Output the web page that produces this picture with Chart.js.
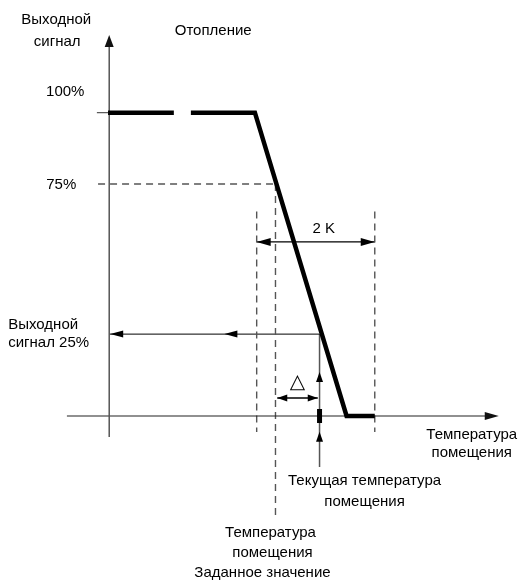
<!DOCTYPE html>
<html><head><meta charset="utf-8">
<style>html,body{margin:0;padding:0;background:#fff}canvas{display:block}</style>
</head><body>
<canvas id="c" width="520" height="582"></canvas>
<script src="https://cdn.jsdelivr.net/npm/chart.js@4/dist/chart.umd.min.js"></script>
<script>
// ---- data (temperature in K relative to setpoint, output in %) ----
const curveTemp   = [-2.85, -1.73, -1.6, -1.44, -0.35, 1.21, 1.69];
const curveOutput = [100, 100, null, 100, 100, 0, 0];
const bandEdges   = [-0.32, 1.69];          // 2 K band
const setpointTemp = 0;
const currentTemp  = 0.75;
const outputLevels = [100, 76.5, 27];        // 100 %, 75 %, 25 %
const xAxisRange = [-3.55, 3.80];
const yAxisRange = [-6.9, 125.6];
const deltaRange = [0.03, 0.72];
const titleText = 'Отопление';
const yTitle = ['Выходной', 'сигнал'];
const xTitle = ['Температура', 'помещения'];
const levelLabels = ['100%', '75%'];
const lowLabel = ['Выходной', 'сигнал 25%'];
const bandLabel = '2 K';
const deltaLabel = '△';
const currentLabel = ['Текущая температура', 'помещения'];
const setpointLabel = ['Температура', 'помещения', 'Заданное значение'];

const pts = (xs, ys) => xs.map((x, i) => ({x, y: ys[i]}));
const seg = (x1, y1, x2, y2) => [{x: x1, y: y1}, {x: x2, y: y2}];
const yAx = yAxisRange, xAx = xAxisRange;
const axisX = -2.83;
const bandTop = 67.4, bandBottom = -5.3, bandArrowY = 57.4;
const curBottom = -16.8, spBottom = -33, deltaY = 5.9;

function line(data, color, width, dash) {
  return {data, showLine: true, borderColor: color, borderWidth: width,
          borderDash: dash || [], pointRadius: 0, fill: false,
          borderCapStyle: 'butt', borderJoinStyle: 'miter', spanGaps: false};
}
const DASH = [7, 5];
const datasets = [
  line(pts(curveTemp, curveOutput), '#000', 4.5),
  line(seg(currentTemp, 2.3, currentTemp, -2.3), '#000', 5),
  line(seg(axisX, yAx[0], axisX, yAx[1] - 3), '#555', 1.5),
  line(seg(xAx[0], 0, xAx[1] - 0.2, 0), '#222', 1.2),
  line(seg(-3.04, outputLevels[0], axisX, outputLevels[0]), '#333', 1),
  line(seg(-3.02, outputLevels[1], setpointTemp, outputLevels[1]), '#555', 1.4, DASH),
  line(seg(setpointTemp, outputLevels[1], setpointTemp, spBottom), '#555', 1.4, DASH),
  line(seg(bandEdges[0], bandTop, bandEdges[0], bandBottom), '#555', 1.4, DASH),
  line(seg(bandEdges[1], bandTop, bandEdges[1], bandBottom), '#555', 1.4, DASH),
  line(seg(bandEdges[0], bandArrowY, bandEdges[1], bandArrowY), '#000', 1.2),
  line(seg(currentTemp, outputLevels[2], axisX, outputLevels[2]), '#000', 1),
  line(seg(currentTemp, outputLevels[2], currentTemp, curBottom), '#555', 1.5),
  line(seg(deltaRange[0], deltaY, deltaRange[1], deltaY), '#000', 1.5)
];

function arrow(ctx, x, y, dx, dy, len, w, color) {
  const nx = -dy, ny = dx;
  ctx.beginPath();
  ctx.moveTo(x, y);
  ctx.lineTo(x - dx * len + nx * w / 2, y - dy * len + ny * w / 2);
  ctx.lineTo(x - dx * len - nx * w / 2, y - dy * len - ny * w / 2);
  ctx.closePath();
  ctx.fillStyle = color;
  ctx.fill();
}

const decor = {
  id: 'decor',
  afterDatasetsDraw(chart) {
    const ctx = chart.ctx, X = chart.scales.x, Y = chart.scales.y;
    const px = v => X.getPixelForValue(v), py = v => Y.getPixelForValue(v);
    ctx.save();
    // arrowheads
    arrow(ctx, px(axisX), py(yAx[1]), 0, -1, 12, 9, '#111');
    arrow(ctx, px(xAx[1]), py(0), 1, 0, 14, 8, '#111');
    arrow(ctx, px(bandEdges[0]), py(bandArrowY), -1, 0, 14, 8, '#000');
    arrow(ctx, px(bandEdges[1]), py(bandArrowY), 1, 0, 14, 8, '#000');
    arrow(ctx, px(axisX) + 1, py(outputLevels[2]), -1, 0, 13, 7, '#000');
    arrow(ctx, px(-0.87), py(outputLevels[2]), -1, 0, 13, 7, '#000');
    arrow(ctx, px(currentTemp), py(14.5), 0, -1, 10, 7, '#000');
    arrow(ctx, px(currentTemp), py(-5.2), 0, -1, 10, 7, '#000');
    arrow(ctx, px(deltaRange[0]), py(deltaY), -1, 0, 10, 7, '#000');
    arrow(ctx, px(deltaRange[1]), py(deltaY), 1, 0, 10, 7, '#000');
    // texts
    ctx.fillStyle = '#000';
    ctx.textBaseline = 'middle';
    const F = '15px "Liberation Sans", Arial, sans-serif';
    const T = (s, x, y, dx, dy, align, font) => {
      ctx.font = font || F; ctx.textAlign = align || 'center';
      ctx.fillText(s, px(x) + dx, py(y) + dy);
    };
    T(yTitle[0], axisX, yAx[1], -53, -15);
    T(yTitle[1], axisX, yAx[1], -52, 7);
    T(titleText, axisX, yAx[1], 104, -4);
    T(levelLabels[0], axisX, outputLevels[0], -44, -21);
    T(levelLabels[1], axisX, outputLevels[1], -48, 1);
    T(bandLabel, (bandEdges[0] + bandEdges[1]) / 2, bandArrowY, 8, -13);
    T(lowLabel[0], axisX, outputLevels[2], -101, -9, 'left');
    T(lowLabel[1], axisX, outputLevels[2], -101, 9, 'left');
    T(deltaLabel, (deltaRange[0] + deltaRange[1]) / 2, deltaY, 0, -15, 'center', '20px "DejaVu Sans", sans-serif');
    T(xTitle[0], xAx[1], 0, -27, 19);
    T(xTitle[1], xAx[1], 0, -27, 37);
    T(currentLabel[0], currentTemp, curBottom, 45, 14);
    T(currentLabel[1], currentTemp, curBottom, 45, 35);
    T(setpointLabel[0], setpointTemp, spBottom, -5, 17);
    T(setpointLabel[1], setpointTemp, spBottom, -3, 37);
    T(setpointLabel[2], setpointTemp, spBottom, -13, 57);
    ctx.restore();
  }
};

new Chart(document.getElementById('c'), {
  type: 'scatter',
  data: {datasets},
  options: {
    responsive: false, animation: false,
    layout: {padding: 0},
    plugins: {legend: {display: false}, tooltip: {enabled: false}},
    scales: {
      x: {type: 'linear', min: -4.689, max: 4.162, display: false},
      y: {type: 'linear', min: -54.73, max: 137.16, display: false}
    }
  },
  plugins: [decor]
});
</script>
</body></html>
